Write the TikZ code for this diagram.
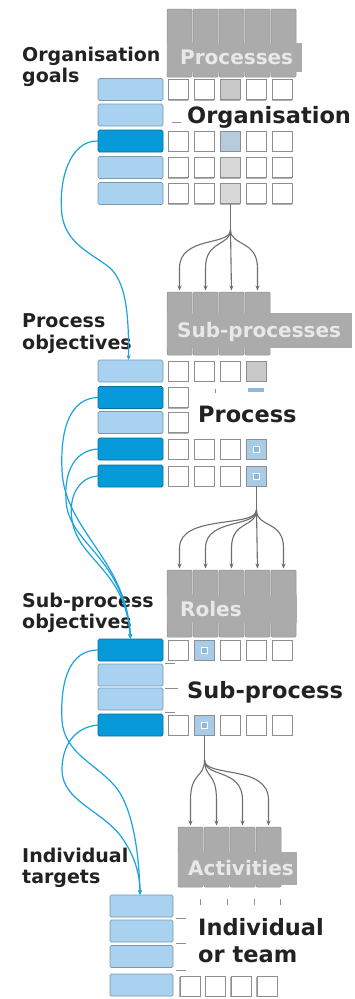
\documentclass[tikz,border=0pt]{standalone}
\usepackage{fontspec}
\setmainfont{DejaVu Sans}
\usetikzlibrary{arrows.meta}
\definecolor{lightbar}{HTML}{A8D2F0}
\definecolor{darkbar}{HTML}{069ADA}
\definecolor{colgray}{HTML}{ABABAB}
\definecolor{bannertext}{HTML}{E8E8E8}
\definecolor{cellline}{HTML}{8E8E8E}
\definecolor{cellshadow}{HTML}{B0B0B0}
\definecolor{cgray}{HTML}{C9C9C9}
\definecolor{cgraylight}{HTML}{D8D8D8}
\definecolor{cbluegray}{HTML}{B8CBDB}
\definecolor{bluecell}{HTML}{A9CCE6}
\definecolor{dotblue}{HTML}{8DB9DA}
\definecolor{curveblue}{HTML}{1AA3DD}
\definecolor{fangray}{HTML}{6E6E6E}
\definecolor{labeltext}{HTML}{222222}
\newcommand\cellbox[4]{%
  \fill[cellshadow] ({#2-11},{#3-9}) rectangle ({#2+9},{#3+11});
  \node[cell,fill=#4] (#1) at (#2,#3) {};}
\begin{document}
\begin{tikzpicture}[x=1pt,y=-1pt,
  bar/.style={draw=#1!72!black, fill=#1, rounded corners=1.5pt, line width=0.7pt,
    minimum width=65pt, minimum height=22pt, inner sep=0pt, outer sep=0pt},
  bar/.default=lightbar,
  colbox/.style={fill=colgray, draw=colgray!85!black, line width=0.5pt, minimum width=25pt,
    inner sep=0pt, outer sep=0pt, rounded corners=1pt},
  banner/.style={fill=colgray, inner sep=0pt, outer sep=0pt, anchor=north west},
  bantext/.style={font=\bfseries\fontsize{20}{22}\selectfont, text=bannertext, anchor=base west, inner sep=0pt},
  cell/.style={draw=cellline, line width=0.7pt, minimum size=20pt, inner sep=0pt, outer sep=0pt},
  dotsq/.style={draw=white, fill=dotblue, line width=0.6pt, minimum size=6pt, inner sep=0pt},
  lab/.style={font=\bfseries\fontsize{19}{22}\selectfont, text=labeltext, anchor=base west, inner sep=0pt},
  biglab/.style={font=\bfseries\fontsize{22.5}{26}\selectfont, text=labeltext, anchor=base west, inner sep=0pt},
  blueline/.style={draw=curveblue, line width=1.2pt, -{Stealth[length=5pt,width=4pt]}},
  fan/.style={draw=fangray, line width=1.1pt, -{Stealth[length=5pt,width=4pt]}, shorten >=1.5pt},
  trunk/.style={draw=fangray, line width=1.3pt},
  tick/.style={draw=cellline, line width=1pt},
]
\fill[white] (0,0) rectangle (355,999);
\useasboundingbox (0,0) rectangle (355,999);

% ================= Section 1 =================
\foreach \i/\x in {1/179.5,2/205.5,3/231.5,4/257.5,5/283.5}
  \node[colbox, minimum height=68pt] (k1\i) at (\x,43) {};
\node[banner, minimum width=135pt, minimum height=29pt] (ban1) at (167,43) {};
\node[bantext] (bt1) at (180,64) {Processes};

\node[bar] (b1a) at (130.5,89.5) {};
\node[bar] (b1b) at (130.5,115) {};
\node[bar=darkbar] (b1c) at (130.5,141) {};
\node[bar] (b1d) at (130.5,167.5) {};
\node[bar] (b1e) at (130.5,193.5) {};

\foreach \i/\x/\f in {1/178.5/white,2/204.5/white,3/230.5/cgray,4/256.5/white,5/282.5/white}
  {\cellbox{s1a\i}{\x}{89.5}{\f}}
\foreach \i/\x/\f in {1/178.5/white,2/204.5/white,3/230.5/cbluegray,4/256.5/white,5/282.5/white}
  {\cellbox{s1c\i}{\x}{141}{\f}}
\foreach \i/\x/\f in {1/178.5/white,2/204.5/white,3/230.5/cgraylight,4/256.5/white,5/282.5/white}
  {\cellbox{s1d\i}{\x}{167.5}{\f}}
\foreach \i/\x/\f in {1/178.5/white,2/204.5/white,3/230.5/cgraylight,4/256.5/white,5/282.5/white}
  {\cellbox{s1e\i}{\x}{193.5}{\f}}
\draw[tick] (172,122) -- (181,122);

\node[lab] (l1a) at (22,61) {Organisation};
\node[lab] (l1b) at (22,82) {goals};
\node[biglab] (r1) at (187,123) {Organisation};

% ================= Section 2 =================
\foreach \i/\x in {1/179.5,2/205.5,3/231.5,4/257.5}
  \node[colbox, minimum height=63pt] (k2\i) at (\x,323.5) {};
\node[banner, minimum width=185pt, minimum height=35pt] (ban2) at (167,313) {};
\node[bantext] (bt2) at (177,337) {Sub-processes};

\node[bar] (b2a) at (130.5,371) {};
\node[bar=darkbar] (b2b) at (130.5,397.5) {};
\node[bar] (b2c) at (130.5,422.5) {};
\node[bar=darkbar] (b2d) at (130.5,449) {};
\node[bar=darkbar] (b2e) at (130.5,476) {};

\foreach \i/\x/\f in {1/178.5/white,2/204.5/white,3/230.5/white,4/256.5/cgray}
  {\cellbox{s2a\i}{\x}{371}{\f}}
\cellbox{s2b1}{178.5}{397.5}{white}
\cellbox{s2c1}{178.5}{422.5}{white}
\foreach \i/\x/\f in {1/178.5/white,2/204.5/white,3/230.5/white,4/256.5/bluecell}
  {\cellbox{s2d\i}{\x}{449}{\f}}
\foreach \i/\x/\f in {1/178.5/white,2/204.5/white,3/230.5/white,4/256.5/bluecell}
  {\cellbox{s2e\i}{\x}{476}{\f}}
\node[dotsq] (d2d) at (s2d4) {};
\node[dotsq] (d2e) at (s2e4) {};
\draw[tick] (215,389) -- (215,393);
\fill[dotblue] (248,388) rectangle (264,392);

\node[lab] (l2a) at (22,327) {Process};
\node[lab] (l2b) at (22,349) {objectives};
\node[biglab] (r2) at (198,422) {Process};

% fan 1
\coordinate (j1) at (230.5,230);
\draw[trunk] (s1e3.south) -- (j1);
\draw[fan] (j1) .. controls (230.5,246) and (179.5,236) .. (179.5,268) -- (k21.north);
\draw[fan] (j1) .. controls (230.5,246) and (205.5,240) .. (205.5,268) -- (k22.north);
\draw[fan] (j1) -- (k23.north);
\draw[fan] (j1) .. controls (230.5,246) and (257.5,240) .. (257.5,268) -- (k24.north);

% ================= Section 3 =================
\foreach \i/\x in {1/179.5,2/205.5,3/231.5,4/257.5,5/283.5}
  \node[colbox, minimum height=67pt] (k3\i) at (\x,603.5) {};
\node[banner, minimum width=130pt, minimum height=28pt] (ban3) at (167,595) {};
\node[bantext] (bt3) at (180,616) {Roles};

\node[bar=darkbar] (b3a) at (130.5,650) {};
\node[bar] (b3b) at (130.5,675) {};
\node[bar] (b3c) at (130.5,699) {};
\node[bar=darkbar] (b3d) at (130.5,725) {};

\foreach \i/\x/\f in {1/178.5/white,2/204.5/bluecell,3/230.5/white,4/256.5/white,5/282.5/white}
  {\cellbox{s3a\i}{\x}{650}{\f}}
\foreach \i/\x/\f in {1/178.5/white,2/204.5/bluecell,3/230.5/white,4/256.5/white,5/282.5/white}
  {\cellbox{s3d\i}{\x}{725}{\f}}
\node[dotsq] (d3a) at (s3a2) {};
\node[dotsq] (d3d) at (s3d2) {};
\draw[tick] (165,663) -- (175,663);
\draw[tick] (165,688) -- (178,688);
\draw[tick] (165,712) -- (175,712);

\node[lab] (l3a) at (22,607) {Sub-process};
\node[lab] (l3b) at (22,628) {objectives};
\node[biglab] (r3) at (187,698) {Sub-process};

% fan 2
\coordinate (j2) at (256.5,510);
\draw[trunk] (s2e4.south) -- (j2);
\draw[fan] (j2) .. controls (256.5,528) and (179.5,514) .. (179.5,548) -- (k31.north);
\draw[fan] (j2) .. controls (256.5,528) and (205.5,518) .. (205.5,548) -- (k32.north);
\draw[fan] (j2) .. controls (256.5,528) and (231.5,520) .. (231.5,548) -- (k33.north);
\draw[fan] (j2) -- (k34.north);
\draw[fan] (j2) .. controls (256.5,528) and (283.5,520) .. (283.5,548) -- (k35.north);

% ================= Section 4 =================
\foreach \i/\x in {1/190.5,2/216.5,3/242.5,4/268.5}
  \node[colbox, minimum height=60pt] (k4\i) at (\x,857) {};
\node[banner, minimum width=119pt, minimum height=33pt] (ban4) at (178,852) {};
\node[bantext] (bt4) at (188,875) {Activities};

\node[bar, minimum width=63pt] (b4a) at (141.5,906) {};
\node[bar, minimum width=63pt] (b4b) at (141.5,931) {};
\node[bar, minimum width=63pt] (b4c) at (141.5,956.5) {};
\node[bar, minimum width=63pt] (b4d) at (141.5,985) {};

\foreach \i/\x in {1/190,2/215.5,3/241,4/267}
  {\cellbox{s4d\i}{\x}{986}{white}}
\foreach \x in {200,227,254,280}
  \draw[tick] (\x,899) -- (\x,905);
\draw[tick] (176,918) -- (186,918);
\draw[tick] (176,943) -- (186,943);
\draw[tick] (176,970) -- (186,970);

\node[lab] (l4a) at (22,862) {Individual};
\node[lab] (l4b) at (22,883) {targets};
\node[biglab] (r4a) at (198,935) {Individual};
\node[biglab] (r4b) at (198,962) {or team};

% fan 3
\coordinate (j3) at (204.5,760);
\draw[trunk] (s3d2.south) -- (j3);
\draw[fan] (j3) .. controls (204.5,778) and (190.5,772) .. (190.5,800) -- (k41.north);
\draw[fan] (j3) .. controls (204.5,778) and (216.5,772) .. (216.5,800) -- (k42.north);
\draw[fan] (j3) .. controls (204.5,778) and (242.5,768) .. (242.5,800) -- (k43.north);
\draw[fan] (j3) .. controls (204.5,778) and (268.5,764) .. (268.5,800) -- (k44.north);

% ================= blue connectors =================
\draw[blueline] (b1c.west) .. controls (70,140) and (58,180) .. (62,215)
  .. controls (66,245) and (95,255) .. (110,268)
  .. controls (125,282) and (129,310) .. ([xshift=-2pt]b2a.north);

\draw[blueline] (b2b.west) .. controls (72,398) and (60,425) .. (62,470)
  .. controls (64,530) and (127,560) .. (b3a.north);
\draw[blueline] (b2d.west) .. controls (76,450) and (64,470) .. (66,500)
  .. controls (68,545) and (124,555) .. (b3a.north);
\draw[blueline] (b2e.west) .. controls (80,477) and (68,495) .. (72,520)
  .. controls (78,560) and (126,570) .. (b3a.north);

\draw[blueline] (b3a.west) .. controls (70,650) and (60,680) .. (62,720)
  .. controls (64,755) and (100,765) .. (118,790)
  .. controls (132,810) and (139,850) .. ([xshift=-1.5pt]b4a.north);
\draw[blueline] (b3d.west) .. controls (75,727) and (62,745) .. (62,770)
  .. controls (62,800) and (100,810) .. (120,835)
  .. controls (135,855) and (140,875) .. ([xshift=-1.5pt]b4a.north);
\end{tikzpicture}
\end{document}
